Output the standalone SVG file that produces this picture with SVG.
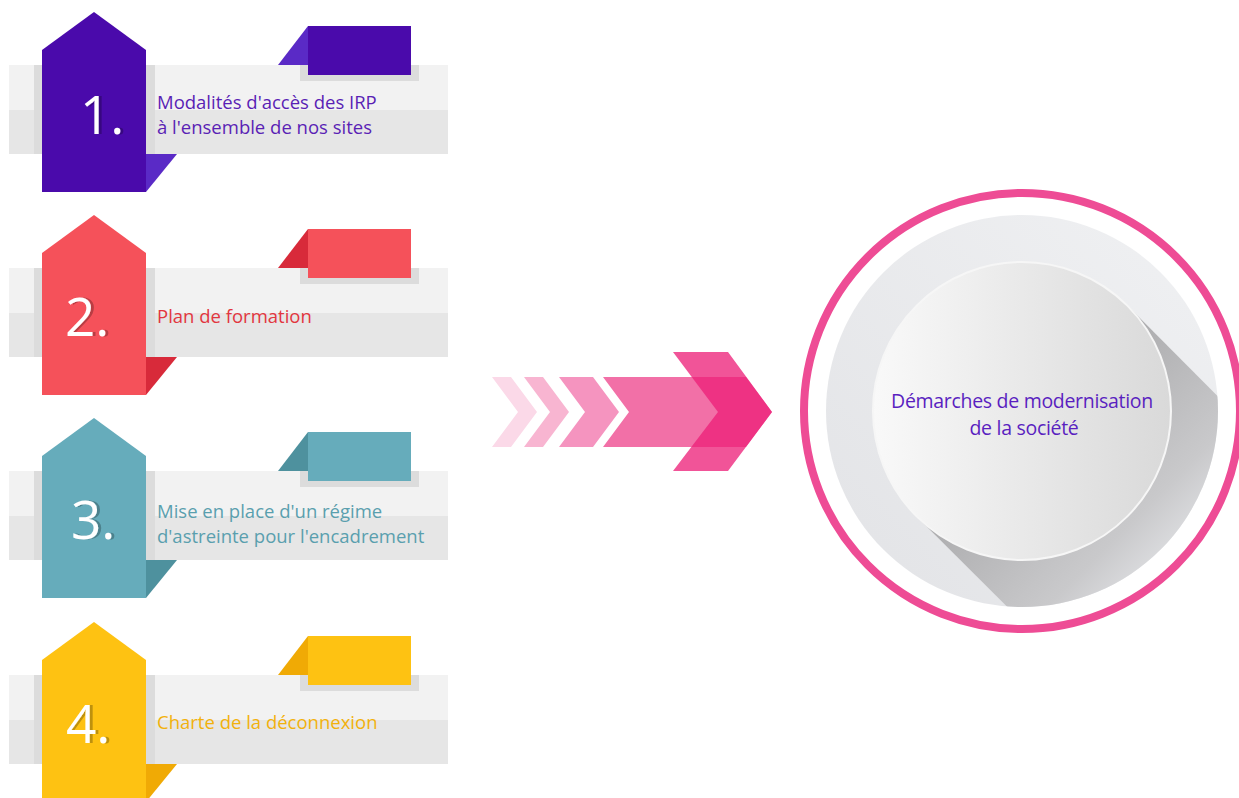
<svg xmlns="http://www.w3.org/2000/svg" width="1239" height="798" viewBox="0 0 1239 798">
<style>
.bandT{fill:#f2f2f2}
.bandB{fill:#e6e6e6}
.sh{fill:#dcdcdc}
.num{font-family:"Open Sans","Liberation Sans",sans-serif;font-weight:400;font-size:53px;fill:#ffffff;filter:url(#numSh)}
.lbl{font-family:"Open Sans","Liberation Sans",sans-serif;font-size:18.5px}
.ctr{font-family:"Open Sans","Liberation Sans",sans-serif;font-size:19.5px;letter-spacing:-0.3px;fill:#5a1fc0;text-anchor:middle}
</style>
<defs>
<filter id="numSh" x="-20%" y="-20%" width="150%" height="140%">
<feOffset in="SourceAlpha" dx="3" dy="0" result="o"/>
<feColorMatrix in="o" type="matrix" values="0 0 0 0 0  0 0 0 0 0  0 0 0 0 0  0 0 0 0.25 0" result="s"/>
<feMerge><feMergeNode in="s"/><feMergeNode in="SourceGraphic"/></feMerge>
</filter>
<g id="base">
<rect class="bandT" x="9" y="65" width="439" height="45"/>
<rect class="bandB" x="9" y="110" width="439" height="44"/>
<rect class="sh" x="34" y="65" width="8" height="89"/>
<rect class="sh" x="146" y="65" width="9" height="89"/>
<rect class="sh" x="300" y="65" width="119" height="16"/>
</g>
<linearGradient id="diskG" x1="0" y1="1" x2="1" y2="0">
<stop offset="0" stop-color="#e2e3e6"/>
<stop offset="1" stop-color="#f0f1f3"/>
</linearGradient>
<linearGradient id="innerG" x1="0" y1="0" x2="1" y2="0">
<stop offset="0" stop-color="#f9f9f9"/>
<stop offset="1" stop-color="#d9d9d9"/>
</linearGradient>
<linearGradient id="shadowG" gradientUnits="userSpaceOnUse" x1="1022" y1="411" x2="1180" y2="569">
<stop offset="0" stop-color="#a9a9ab"/>
<stop offset="0.7" stop-color="#c9c9cb"/>
<stop offset="1" stop-color="#e3e4e7"/>
</linearGradient>
<clipPath id="diskClip"><circle cx="1022" cy="411" r="196"/></clipPath>
</defs>

<g id="item1">
<use href="#base"/>
<polygon points="42,50 94,12 146,50 146,192 42,192" fill="#4a0aab"/>
<polygon points="146,154 177,154 146,192" fill="#5a2ac6"/>
<polygon points="278,65 308,26 308,65" fill="#5a2ac6"/>
<rect x="308" y="26" width="103" height="49" fill="#4a0aab"/>
<text class="num" x="80" y="134">1.</text>
<text class="lbl" fill="#5a1fb5" x="157" y="109">Modalités d'accès des IRP</text>
<text class="lbl" fill="#5a1fb5" x="157" y="134">à l'ensemble de nos sites</text>
</g>

<g id="item2" transform="translate(0,203)">
<use href="#base"/>
<polygon points="42,50 94,12 146,50 146,192 42,192" fill="#f5515a"/>
<polygon points="146,154 177,154 146,192" fill="#d82a3a"/>
<polygon points="278,65 308,26 308,65" fill="#d82a3a"/>
<rect x="308" y="26" width="103" height="49" fill="#f5515a"/>
<text class="num" x="65" y="133">2.</text>
<text class="lbl" fill="#e2363f" x="157" y="120">Plan de formation</text>
</g>

<g id="item3" transform="translate(0,406)">
<use href="#base"/>
<polygon points="42,50 94,12 146,50 146,192 42,192" fill="#66acbb"/>
<polygon points="146,154 177,154 146,192" fill="#4e919e"/>
<polygon points="278,65 308,26 308,65" fill="#4e919e"/>
<rect x="308" y="26" width="103" height="49" fill="#66acbb"/>
<text class="num" x="71" y="133">3.</text>
<text class="lbl" fill="#5a9fae" x="157" y="112">Mise en place d'un régime</text>
<text class="lbl" fill="#5a9fae" x="157" y="137">d'astreinte pour l'encadrement</text>
</g>

<g id="item4" transform="translate(0,610)">
<use href="#base"/>
<polygon points="42,50 94,12 146,50 146,192 42,192" fill="#fec212"/>
<polygon points="146,154 177,154 146,192" fill="#f0aa05"/>
<polygon points="278,65 308,26 308,65" fill="#f0aa05"/>
<rect x="308" y="26" width="103" height="49" fill="#fec212"/>
<text class="num" x="66" y="133">4.</text>
<text class="lbl" fill="#f2b10c" x="157" y="119">Charte de la déconnexion</text>
</g>

<g id="connectors">
<polygon points="492,377 511,377 537,412 511,447 492,447 518,412" fill="#fbd9e8"/>
<polygon points="524,377 543,377 569,412 543,447 524,447 550,412" fill="#f8b5d1"/>
<polygon points="559,377 593,377 619,412 593,447 559,447 585,412" fill="#f594bf"/>
<polygon points="603,377 746,377 772,412 746,447 603,447 629,412" fill="#f270a7"/>
<polygon points="673,352 728,352 772,412 728,471 673,471 718,412" fill="#ec1e78" fill-opacity="0.76"/>
</g>

<g id="center">
<circle cx="1022" cy="411" r="218" fill="#ffffff" stroke="#ee4c95" stroke-width="8"/>
<circle cx="1022" cy="411" r="196" fill="url(#diskG)"/>
<polygon points="1127.4,305.6 1527,706 1317,916 916.6,516.4" fill="url(#shadowG)" clip-path="url(#diskClip)"/>
<circle cx="1022" cy="411" r="149" fill="url(#innerG)" stroke="#f6f6f6" stroke-width="2"/>
<text class="ctr" x="1022" y="408">Démarches de modernisation</text>
<text class="ctr" x="1024" y="435">de la société</text>
</g>
</svg>
